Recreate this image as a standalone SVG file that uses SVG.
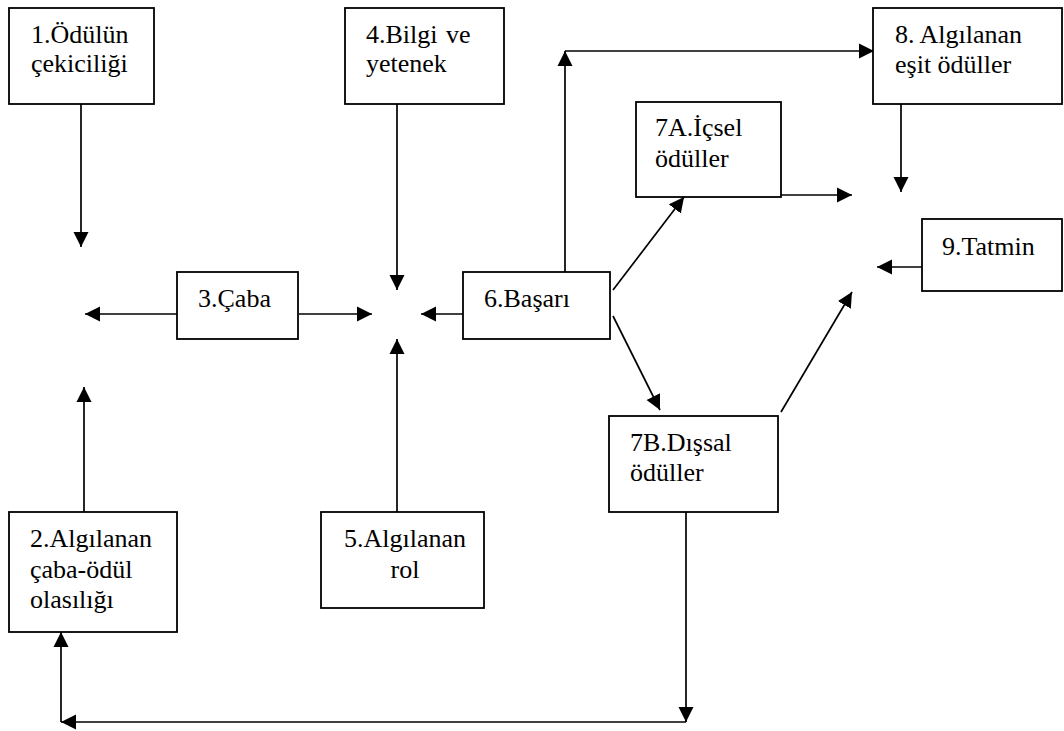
<svg xmlns="http://www.w3.org/2000/svg" width="1064" height="731" viewBox="0 0 1064 731">
<style>
.box{fill:#fff;stroke:#000;stroke-width:1.8}
.t{font-family:"Liberation Serif","Times New Roman",Tinos,"Nimbus Roman","Nimbus Roman No9 L","Noto Serif","DejaVu Serif",FreeSerif,Times,serif;font-size:26px;fill:#000}
.c{fill:none;stroke:#000;stroke-width:1.7}
</style>
<defs>
<marker id="ah" markerUnits="userSpaceOnUse" markerWidth="16" markerHeight="16" refX="15" refY="8" orient="auto">
<path d="M0,0.5 L15,8 L0,15.5 z" fill="#000"/>
</marker>
</defs>
<rect width="1064" height="731" fill="#fff"/>
<g id="connectors">
<line class="c" x1="81" y1="104" x2="81" y2="247" marker-end="url(#ah)"/>
<line class="c" x1="397" y1="104" x2="397" y2="290" marker-end="url(#ah)"/>
<line class="c" x1="177" y1="314" x2="85" y2="314" marker-end="url(#ah)"/>
<line class="c" x1="299" y1="314" x2="372" y2="314" marker-end="url(#ah)"/>
<line class="c" x1="463" y1="314" x2="421" y2="314" marker-end="url(#ah)"/>
<line class="c" x1="397" y1="512" x2="397" y2="339" marker-end="url(#ah)"/>
<line class="c" x1="84" y1="512" x2="84" y2="387" marker-end="url(#ah)"/>
<line class="c" x1="565" y1="272" x2="565" y2="51" marker-end="url(#ah)"/>
<line class="c" x1="565" y1="51" x2="874" y2="51" marker-end="url(#ah)"/>
<line class="c" x1="613" y1="290" x2="684" y2="197" marker-end="url(#ah)"/>
<line class="c" x1="613" y1="316" x2="660" y2="410" marker-end="url(#ah)"/>
<line class="c" x1="781" y1="195" x2="852" y2="195" marker-end="url(#ah)"/>
<line class="c" x1="901" y1="104" x2="901" y2="192" marker-end="url(#ah)"/>
<line class="c" x1="922" y1="267" x2="877" y2="267" marker-end="url(#ah)"/>
<line class="c" x1="781" y1="412" x2="852" y2="292" marker-end="url(#ah)"/>
<line class="c" x1="686" y1="512" x2="686" y2="722" marker-end="url(#ah)"/>
<line class="c" x1="686" y1="722" x2="61" y2="722" marker-end="url(#ah)"/>
<line class="c" x1="61" y1="722" x2="61" y2="632" marker-end="url(#ah)"/>
</g>
<g id="n1"><rect class="box" x="9" y="8" width="145" height="96"/>
<text class="t" x="31" y="43">1.Ödülün</text><text class="t" x="31" y="72">çekiciliği</text></g>
<g id="n2"><rect class="box" x="9" y="512" width="168" height="120"/>
<text class="t" x="30" y="547">2.Algılanan</text><text class="t" x="30" y="578">çaba-ödül</text><text class="t" x="30" y="608">olasılığı</text></g>
<g id="n3"><rect class="box" x="177" y="272" width="121" height="67"/>
<text class="t" x="198" y="307">3.Çaba</text></g>
<g id="n4"><rect class="box" x="345" y="8" width="159" height="96"/>
<text class="t" x="366" y="43">4.Bilgi</text><text class="t" x="446" y="43">ve</text><text class="t" x="366" y="72">yetenek</text></g>
<g id="n5"><rect class="box" x="321" y="512" width="163" height="96"/>
<text class="t" x="405" y="547" text-anchor="middle">5.Algılanan</text><text class="t" x="405" y="578" text-anchor="middle">rol</text></g>
<g id="n6"><rect class="box" x="463" y="272" width="147" height="67"/>
<text class="t" x="484" y="307">6.Başarı</text></g>
<g id="n7a"><rect class="box" x="636" y="102" width="145" height="95"/>
<text class="t" x="655" y="136">7A.İçsel</text><text class="t" x="655" y="167">ödüller</text></g>
<g id="n7b"><rect class="box" x="609" y="416" width="169" height="96"/>
<text class="t" x="630" y="451">7B.Dışsal</text><text class="t" x="630" y="481">ödüller</text></g>
<g id="n8"><rect class="box" x="873" y="8" width="189" height="96"/>
<text class="t" x="895" y="43">8. Algılanan</text><text class="t" x="895" y="73">eşit ödüller</text></g>
<g id="n9"><rect class="box" x="922" y="219" width="140" height="72"/>
<text class="t" x="942" y="255">9.Tatmin</text></g>
</svg>
